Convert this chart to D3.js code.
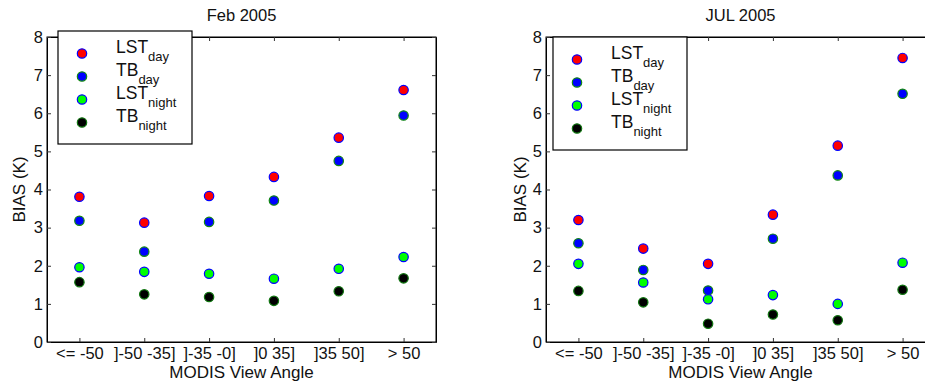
<!DOCTYPE html>
<html>
<head>
<meta charset="utf-8">
<script src="https://cdn.jsdelivr.net/npm/d3@7"></script>
<style>
  body { margin: 0; background: #fff; }
  text { font-family: "Liberation Sans", Arial, sans-serif; fill: #111; }
</style>
</head>
<body>
<div id="chart"></div>
<script>
// view angle bins
var categories = ["<= -50", "]-50 -35]", "]-35 -0]", "]0 35]", "]35 50]", "> 50"];
var yTicks = [0, 1, 2, 3, 4, 5, 6, 7, 8];

// Feb 2005
var febLstDay   = [3.81, 3.13, 3.83, 4.33, 5.36, 6.61];
var febTbDay    = [3.18, 2.37, 3.15, 3.71, 4.75, 5.94];
var febLstNight = [1.96, 1.84, 1.79, 1.66, 1.92, 2.23];
var febTbNight  = [1.57, 1.25, 1.18, 1.08, 1.33, 1.67];

// Jul 2005
var julLstDay   = [3.20, 2.45, 2.05, 3.34, 5.15, 7.45];
var julTbDay    = [2.59, 1.89, 1.35, 2.71, 4.37, 6.51];
var julLstNight = [2.05, 1.56, 1.12, 1.23, 1.00, 2.08];
var julTbNight  = [1.34, 1.04, 0.48, 0.72, 0.57, 1.37];

var seriesStyle = [
    {name: "LST", sub: "day",   fill: "#ff0000", stroke: "#0000ff"},
    {name: "TB",  sub: "day",   fill: "#0000ff", stroke: "#118811"},
    {name: "LST", sub: "night", fill: "#00ff00", stroke: "#0000ff"},
    {name: "TB",  sub: "night", fill: "#000000", stroke: "#117711"}
];

var width = 925, height = 385;
var svg = d3.select("#chart").append("svg")
    .attr("width", width)
    .attr("height", height);

function drawPanel(cfg) {
    var x = d3.scaleLinear().domain([0.5, 6.5]).range([cfg.left, cfg.left + 389]);
    var y = d3.scaleLinear().domain([0, 8]).range([342, 37]);
    var g = svg.append("g");

    // box
    g.append("rect")
        .attr("x", x(0.5)).attr("y", y(8))
        .attr("width", x(6.5) - x(0.5)).attr("height", y(0) - y(8))
        .attr("fill", "none").attr("stroke", "#000").attr("stroke-width", 1);

    // axes, ticks pointing inward like matlab
    var xAxis = d3.axisBottom(x).tickValues(d3.range(1, 7))
        .tickFormat(function(d) { return categories[d - 1]; })
        .tickSizeInner(-4).tickSizeOuter(0).tickPadding(5);
    var gx = g.append("g").attr("transform", "translate(0," + y(0) + ")").call(xAxis);
    var xTop = d3.axisTop(x).tickValues(d3.range(1, 7)).tickFormat("")
        .tickSizeInner(-4).tickSizeOuter(0);
    var gxt = g.append("g").attr("transform", "translate(0," + y(8) + ")").call(xTop);

    var yAxis = d3.axisLeft(y).tickValues(yTicks).tickFormat(d3.format("d"))
        .tickSizeInner(-4).tickSizeOuter(0).tickPadding(4);
    var gy = g.append("g").attr("transform", "translate(" + x(0.5) + ",0)").call(yAxis);
    var yRight = d3.axisRight(y).tickValues(yTicks).tickFormat("")
        .tickSizeInner(-4).tickSizeOuter(0);
    var gyr = g.append("g").attr("transform", "translate(" + x(6.5) + ",0)").call(yRight);

    [gx, gxt, gy, gyr].forEach(function(a) {
        a.select(".domain").attr("stroke", "#000");
        a.selectAll(".tick line").attr("stroke", "#333");
        a.selectAll("text").attr("fill", "#111")
            .style("font-family", "'Liberation Sans', Arial, sans-serif")
            .style("font-size", "16.5px");
    });

    // titles
    g.append("text").attr("x", cfg.left + 194.5).attr("y", 21)
        .attr("text-anchor", "middle").style("font-size", "16.5px").text(cfg.title);
    g.append("text").attr("x", cfg.left + 194.5).attr("y", 378)
        .attr("text-anchor", "middle").style("font-size", "17px").text("MODIS View Angle");
    g.append("text")
        .attr("transform", "translate(" + (cfg.left - cfg.ylabOff) + "," + y(4) + ") rotate(-90)")
        .attr("text-anchor", "middle").style("font-size", "17px").text("BIAS (K)");

    // points
    cfg.series.forEach(function(vals, si) {
        var st = seriesStyle[si];
        g.selectAll(".pt" + si).data(vals).enter().append("circle")
            .attr("cx", function(d, i) { return x(i + 1); })
            .attr("cy", function(d) { return y(d); })
            .attr("r", 4.7)
            .attr("fill", st.fill)
            .attr("stroke", st.stroke)
            .attr("stroke-width", 1.2);
    });

    // legend
    var lg = g.append("g").attr("transform", "translate(" + cfg.legX + "," + cfg.legY + ")");
    lg.append("rect").attr("x", 0).attr("y", 0).attr("width", 134).attr("height", 113)
        .attr("fill", "#fff").attr("stroke", "#000").attr("stroke-width", 1.2);
    seriesStyle.forEach(function(st, i) {
        var cy = 22.5 + i * 23;
        lg.append("circle").attr("cx", 24).attr("cy", cy).attr("r", 4.7)
            .attr("fill", st.fill).attr("stroke", st.stroke).attr("stroke-width", 1.2);
        var t = lg.append("text").attr("x", 58).attr("y", cy - 1).style("font-size", "17.5px");
        t.append("tspan").text(st.name);
        t.append("tspan").attr("dy", 8).style("font-size", "13px").text(st.sub);
    });
}

drawPanel({
    left: 47, title: "Feb 2005", legX: 58, legY: 31, ylabOff: 22,
    series: [febLstDay, febTbDay, febLstNight, febTbNight]
});
drawPanel({
    left: 546, title: "JUL 2005", legX: 553, legY: 37, ylabOff: 20,
    series: [julLstDay, julTbDay, julLstNight, julTbNight]
});
</script>
</body>
</html>
